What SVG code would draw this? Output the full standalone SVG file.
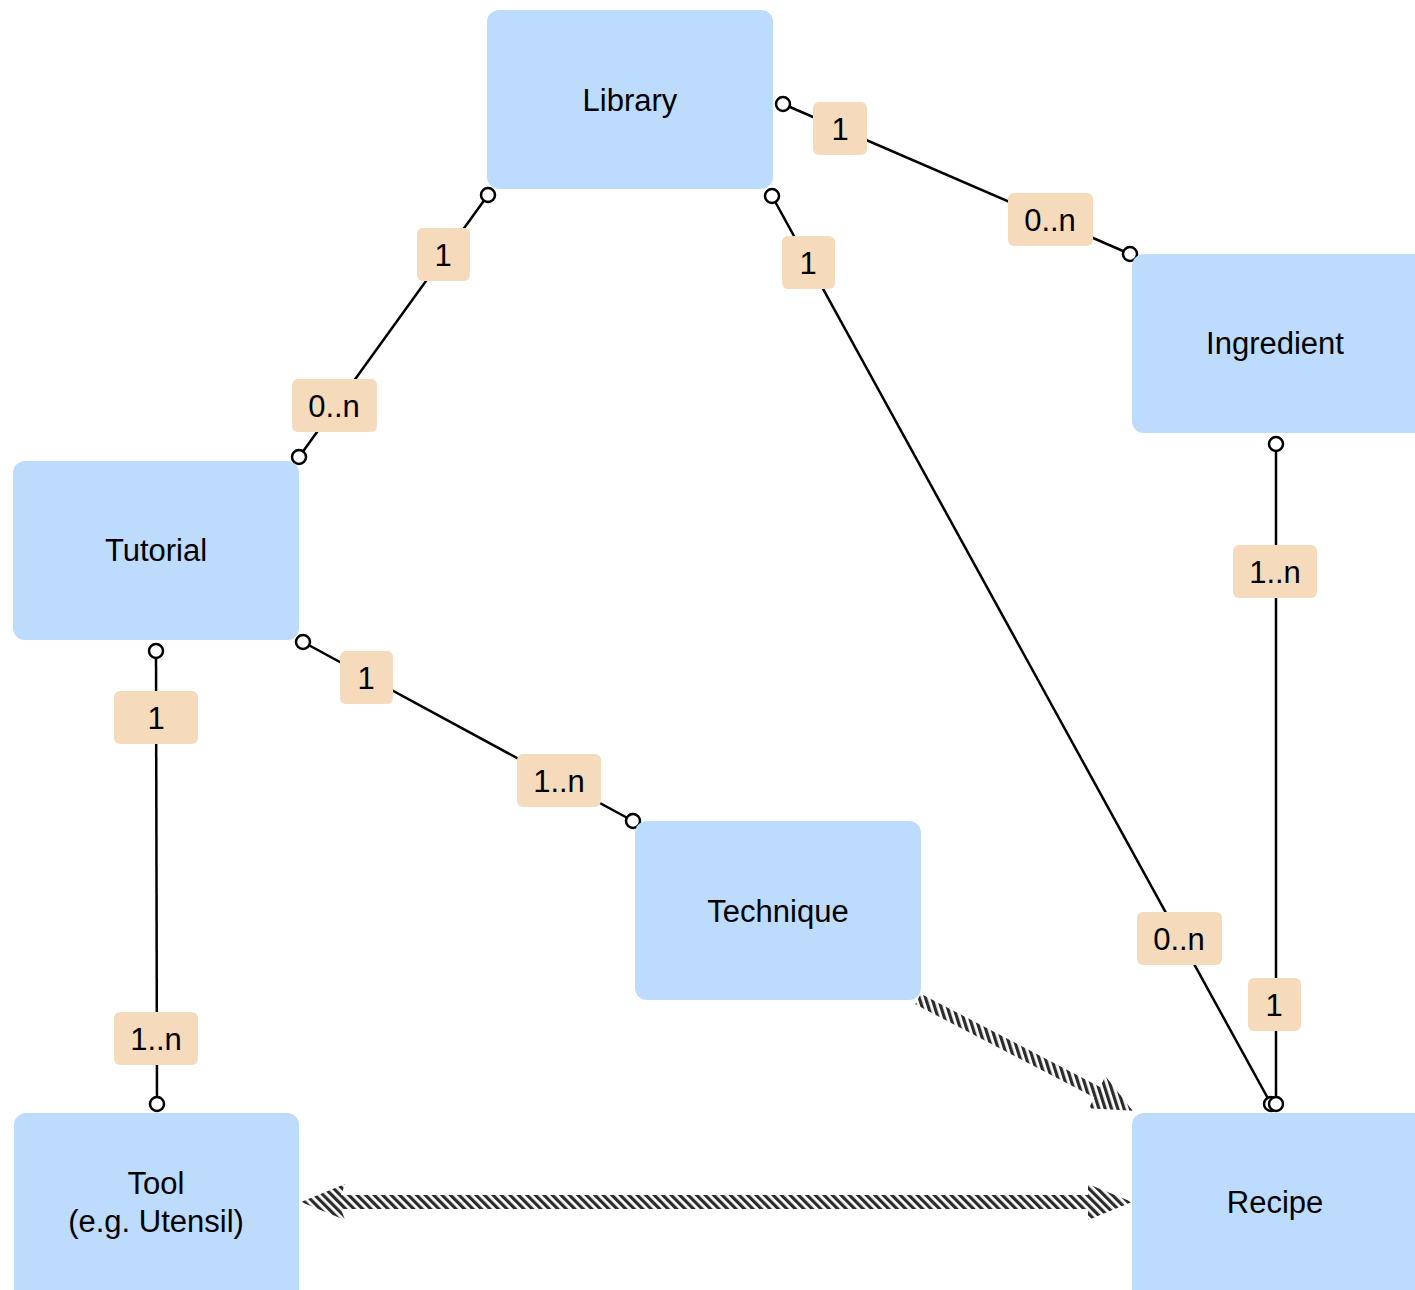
<svg xmlns="http://www.w3.org/2000/svg" width="1415" height="1290" viewBox="0 0 1415 1290">
<defs>
<style>
.node{fill:#bddbfd;}
.lbl{fill:#f5dbbb;}
.t{font-family:"Liberation Sans",Arial,sans-serif;font-size:31px;fill:#000;text-anchor:middle;dominant-baseline:central;}
.c{stroke:#000;stroke-width:2.5;fill:none;}
.end{fill:#fff;stroke:#000;stroke-width:2.5;}
.hatch{fill:url(#hp);}
</style>
<pattern id="hp" width="6" height="6" patternUnits="userSpaceOnUse" patternTransform="rotate(-45)">
<rect width="3.2" height="6" fill="#2b2b2b"/>
</pattern>
</defs>
<rect width="1415" height="1290" fill="#fff"/>
<g id="connectors">
<line class="c" x1="783" y1="104" x2="1130" y2="254"/>
<line class="c" x1="488" y1="195" x2="299" y2="457"/>
<line class="c" x1="772" y1="196" x2="1271" y2="1104"/>
<line class="c" x1="1276" y1="444" x2="1276" y2="1104"/>
<line class="c" x1="303" y1="642" x2="633" y2="821"/>
<line class="c" x1="156" y1="651" x2="157" y2="1104"/>
<path class="hatch" d="M301,1202 L345,1184 L341,1195 L1088,1195 L1088,1184 L1132,1202 L1088,1220 L1088,1209 L341,1209 L345,1220 Z"/>
<g transform="translate(918,999) rotate(27.5)">
<path class="hatch" d="M0,-6 L202,-6 L202,-18 L242,0 L202,18 L202,6 L0,6 Z"/>
</g>
<g id="labels">
<rect class="lbl" x="813" y="102" width="54" height="53" rx="6"/><text class="t" x="840" y="129">1</text>
<rect class="lbl" x="1008" y="193" width="85" height="53" rx="6"/><text class="t" x="1050" y="220">0..n</text>
<rect class="lbl" x="417" y="228" width="53" height="53" rx="6"/><text class="t" x="443" y="255">1</text>
<rect class="lbl" x="292" y="379" width="85" height="53" rx="6"/><text class="t" x="334" y="406">0..n</text>
<rect class="lbl" x="782" y="236" width="53" height="53" rx="6"/><text class="t" x="808" y="263">1</text>
<rect class="lbl" x="1137" y="912" width="85" height="53" rx="6"/><text class="t" x="1179" y="939">0..n</text>
<rect class="lbl" x="1233" y="545" width="84" height="53" rx="6"/><text class="t" x="1275" y="572">1..n</text>
<rect class="lbl" x="1248" y="978" width="53" height="53" rx="6"/><text class="t" x="1274" y="1005">1</text>
<rect class="lbl" x="340" y="651" width="53" height="53" rx="6"/><text class="t" x="366" y="678">1</text>
<rect class="lbl" x="517" y="754" width="84" height="53" rx="6"/><text class="t" x="559" y="781">1..n</text>
<rect class="lbl" x="114" y="691" width="84" height="53" rx="6"/><text class="t" x="156" y="718">1</text>
<rect class="lbl" x="114" y="1012" width="84" height="53" rx="6"/><text class="t" x="156" y="1039">1..n</text>
</g>
<g id="ends">
<circle class="end" cx="783" cy="104" r="7"/>
<circle class="end" cx="1130" cy="254" r="7"/>
<circle class="end" cx="488" cy="195" r="7"/>
<circle class="end" cx="299" cy="457" r="7"/>
<circle class="end" cx="772" cy="196" r="7"/>
<circle class="end" cx="1271" cy="1104" r="7"/>
<circle class="end" cx="1276" cy="444" r="7"/>
<circle class="end" cx="1276" cy="1104" r="7"/>
<circle class="end" cx="303" cy="642" r="7"/>
<circle class="end" cx="633" cy="821" r="7"/>
<circle class="end" cx="156" cy="651" r="7"/>
<circle class="end" cx="157" cy="1104" r="7"/>
</g>
</g>
<g id="library"><rect class="node" x="487" y="10" width="286" height="179" rx="12"/><text class="t" x="630" y="100">Library</text></g>
<g id="ingredient"><rect class="node" x="1132" y="254" width="295" height="179" rx="12"/><text class="t" x="1275" y="343">Ingredient</text></g>
<g id="tutorial"><rect class="node" x="13" y="461" width="286" height="179" rx="12"/><text class="t" x="156" y="550">Tutorial</text></g>
<g id="technique"><rect class="node" x="635" y="821" width="286" height="179" rx="12"/><text class="t" x="778" y="911">Technique</text></g>
<g id="tool"><rect class="node" x="14" y="1113" width="285" height="190" rx="12"/><text class="t" x="156" y="1183">Tool</text><text class="t" x="156" y="1221">(e.g. Utensil)</text></g>
<g id="recipe"><rect class="node" x="1132" y="1113" width="295" height="190" rx="12"/><text class="t" x="1275" y="1202">Recipe</text></g>
</svg>
